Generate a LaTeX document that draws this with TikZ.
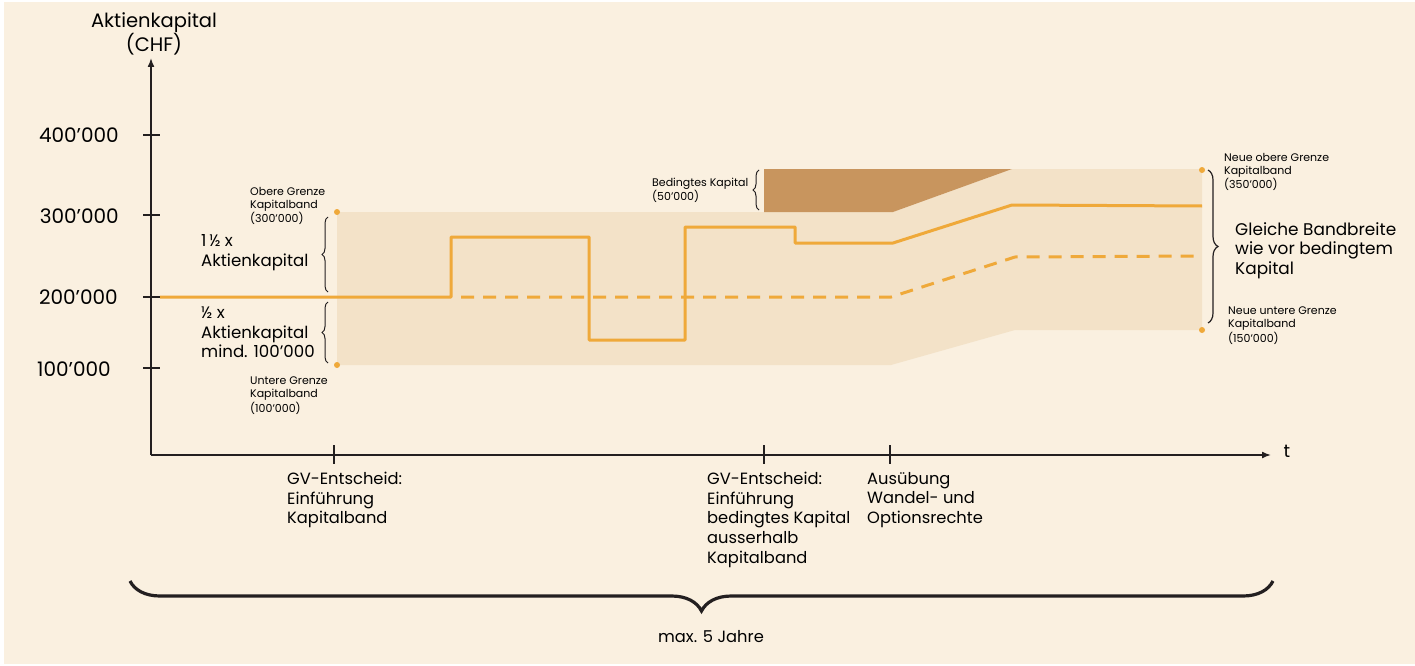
\documentclass[tikz,border=0pt]{standalone}
\usepackage{fontspec}
\setmainfont{Poppins}
\usetikzlibrary{arrows.meta,decorations.pathreplacing}
\definecolor{bg}{HTML}{FAF0E0}
\definecolor{band}{HTML}{F3E2C8}
\definecolor{brownfill}{HTML}{C8955E}
\definecolor{orangeline}{HTML}{EFA93A}
\definecolor{axiscol}{HTML}{231F20}
\tikzset{
  axisline/.style={draw=axiscol, line width=1.6pt},
  tickmark/.style={draw=axiscol, line width=2.6pt},
  kurve/.style={draw=orangeline, line width=3pt},
  kurvedash/.style={draw=orangeline, line width=3pt, dash pattern=on 13pt off 9pt},
  smallbrace/.style={draw=axiscol, line width=1pt, decorate, decoration={brace, amplitude=6pt}},
  bigbrace/.style={draw=axiscol, line width=3.2pt, decorate, decoration={brace, amplitude=30pt}},
  ticklab/.style={font=\fontsize{20}{24}\selectfont, anchor=east, inner sep=0pt},
  smalllab/.style={font=\fontsize{11}{13}\selectfont, align=left, anchor=north west, inner sep=0pt},
  midlab/.style={font=\fontsize{16.3}{19.6}\selectfont, align=left, anchor=north west, inner sep=0pt},
  dot/.style={fill=orangeline}
}
\begin{document}
\begin{tikzpicture}[x=1pt,y=-1pt]
\useasboundingbox (0,0) rectangle (1415,666);
\fill[white] (0,0) rectangle (1415,666);
\fill[bg] (4,2) rectangle (1415,664);

% band and conditional capital
\fill[band] (337,212) -- (893,212) -- (1012,169) -- (1202,169) -- (1202,330) -- (1015,330) -- (891,365) -- (337,365) -- cycle;
\fill[brownfill] (764,169) -- (1012,169) -- (893,212) -- (764,212) -- cycle;

% axes
\coordinate (O) at (151,455);
\coordinate (ytop) at (151,58);
\coordinate (xend) at (1271,455);
\draw[axisline, -{Latex[length=9pt,width=7pt]}] (O) -- (ytop);
\draw[axisline, -{Latex[length=9pt,width=7pt]}] (O) -- (xend);
\node[font=\fontsize{19.5}{22}\selectfont, align=center, inner sep=0pt] (ylab) at (154,34) {Aktienkapital\\(CHF)};
\node[font=\fontsize{18}{22}\selectfont, inner sep=0pt] (tlab) at (1287,451) {t};

% y ticks
\foreach \yy in {135,215,297,368}{
  \draw[tickmark] (143,\yy) -- (160,\yy);
}
\node[ticklab] (t400) at (119,135) {400’000};
\node[ticklab] (t300) at (119,216) {300’000};
\node[ticklab] (t200) at (118,297) {200’000};
\node[ticklab] (t100) at (111,369) {100’000};

% x ticks
\foreach \xx in {334,764,890}{
  \draw[tickmark] (\xx,445) -- (\xx,464);
}

% curves
\draw[kurve, line join=round] (160,297) -- (451,297) -- (451,237) -- (589,237) -- (589,340) -- (685,340) -- (685,227) -- (795,227) -- (795,243) -- (893,243) -- (1012,205) -- (1202,206);
\draw[kurvedash] (461,297) -- (891,297) -- (1015,257) -- (1202,256);

% dots
\fill[dot] (337,212) circle (3pt);
\fill[dot] (337,365) circle (3pt);
\fill[dot] (1202,170) circle (3pt);
\fill[dot] (1202,330) circle (3pt);

% braces
\draw[smallbrace] (328,292) -- (328,217);
\draw[smallbrace] (328,363) -- (328,302);
\draw[smallbrace] (759,210) -- (759,170);
\draw[draw=axiscol, line width=1.2pt, decorate, decoration={brace, amplitude=10pt}] (1208,170) -- (1208,323);
\draw[bigbrace] (1273,581) -- (130,581);

% labels left
\node[smalllab] (obere) at (250,187) {Obere Grenze\\Kapitalband\\(300’000)};
\node[smalllab] (untere) at (250,377) {Untere Grenze\\Kapitalband\\(100’000)};
\node[font=\fontsize{16.6}{20}\selectfont, align=left, anchor=north west, inner sep=0pt] (oneh) at (201,234) {1\,½ x\\Aktienkapital};
\node[font=\fontsize{16.6}{19.5}\selectfont, align=left, anchor=north west, inner sep=0pt] (half) at (201,307) {½ x\\Aktienkapital\\mind. 100’000};

% conditional capital label
\node[font=\fontsize{11}{13.5}\selectfont, align=left, anchor=north west, inner sep=0pt] (bed) at (652,178) {Bedingtes Kapital\\(50’000)};

% right labels
\node[smalllab] (neueob) at (1224,153) {Neue obere Grenze\\Kapitalband\\(350’000)};
\node[smalllab] (neueun) at (1228,307) {Neue untere Grenze\\Kapitalband\\(150’000)};
\node[font=\fontsize{16.9}{19.5}\selectfont, align=left, anchor=north west, inner sep=0pt] (gleich) at (1235,222) {Gleiche Bandbreite\\wie vor bedingtem\\Kapital};

% bottom labels
\node[midlab] (gv1) at (287,472) {GV-Entscheid:\\Einführung\\Kapitalband};
\node[midlab] (gv2) at (707,472) {GV-Entscheid:\\Einführung\\bedingtes Kapital\\ausserhalb\\Kapitalband};
\node[midlab] (aus) at (867,472) {Ausübung\\Wandel- und\\Optionsrechte};
\node[font=\fontsize{16.3}{19}\selectfont, inner sep=0pt] (max) at (711,637) {max. 5 Jahre};
\end{tikzpicture}
\end{document}
